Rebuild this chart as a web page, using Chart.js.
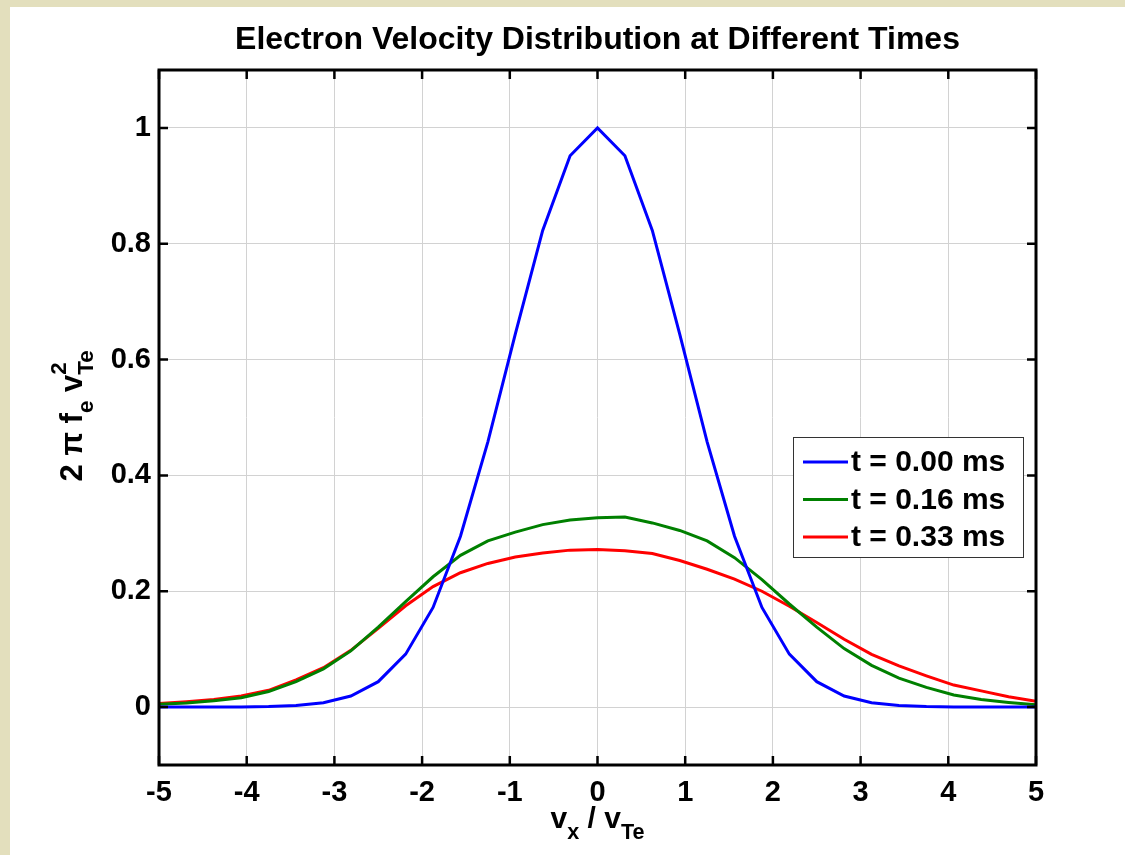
<!DOCTYPE html>
<html>
<head>
<meta charset="utf-8">
<script src="https://cdn.jsdelivr.net/npm/chart.js@4.4.0/dist/chart.umd.min.js"></script>
<style>
  body { margin: 0; background: #e3dfbd; width: 1125px; height: 855px; overflow: hidden; }
  #wrap { position: absolute; left: 10px; top: 7px; width: 1115px; height: 848px; background: #fff; }
</style>
</head>
<body>
<div id="wrap"><canvas id="velocity-chart" width="1115" height="848"></canvas></div>
<script>
// sample positions along v_x / v_Te
const xs = [-5, -4.6875, -4.375, -4.0625, -3.75, -3.4375, -3.125, -2.8125, -2.5, -2.1875, -1.875,
  -1.5625, -1.25, -0.9375, -0.625, -0.3125, 0, 0.3125, 0.625, 0.9375, 1.25, 1.5625, 1.875,
  2.1875, 2.5, 2.8125, 3.125, 3.4375, 3.75, 4.0625, 4.375, 4.6875, 5];

const t000 = [0, 0, 0.0001, 0.0003, 0.0009, 0.0027, 0.0076, 0.0192, 0.0439, 0.0914, 0.172,
  0.295, 0.458, 0.644, 0.823, 0.952, 1, 0.952, 0.823, 0.644, 0.458, 0.295, 0.172,
  0.0914, 0.0439, 0.0192, 0.0076, 0.0027, 0.0009, 0.0003, 0.0001, 0, 0];

const t016 = [0.005, 0.007, 0.011, 0.016, 0.027, 0.044, 0.066, 0.097, 0.138, 0.182, 0.225,
  0.262, 0.287, 0.302, 0.315, 0.323, 0.327, 0.328, 0.318, 0.305, 0.287, 0.258, 0.220,
  0.178, 0.138, 0.101, 0.072, 0.050, 0.034, 0.021, 0.013, 0.008, 0.004];

const t033 = [0.006, 0.009, 0.013, 0.019, 0.029, 0.047, 0.068, 0.098, 0.136, 0.175, 0.208,
  0.232, 0.248, 0.259, 0.266, 0.271, 0.272, 0.270, 0.265, 0.253, 0.238, 0.221, 0.200,
  0.174, 0.146, 0.117, 0.091, 0.071, 0.054, 0.038, 0.028, 0.018, 0.010];

const seriesLabels = ['t = 0.00 ms', 't = 0.16 ms', 't = 0.33 ms'];
const seriesColors = ['#0000ff', '#008000', '#ff0000'];
const xTicks = [-5, -4, -3, -2, -1, 0, 1, 2, 3, 4, 5];
const yTicks = [0, 0.2, 0.4, 0.6, 0.8, 1];

const FONT = '"Liberation Sans", Arial, sans-serif';

function toPoints(ys) {
  return xs.map((x, i) => ({ x: x, y: ys[i] }));
}

// draw text pieces with sub/superscripts, starting at (x, y) baseline
function drawRich(ctx, parts, x, y, size) {
  let cx = x;
  parts.forEach(p => {
    const s = p.small ? size * 0.72 : size;
    ctx.font = 'bold ' + s + 'px ' + FONT;
    ctx.fillText(p.t, cx, y + (p.dy || 0));
    if (!p.keep) cx += ctx.measureText(p.t).width;
  });
  return cx - x;
}
function richWidth(ctx, parts, size) {
  let w = 0;
  parts.forEach(p => {
    const s = p.small ? size * 0.72 : size;
    ctx.font = 'bold ' + s + 'px ' + FONT;
    if (!p.keep) w += ctx.measureText(p.t).width;
  });
  return w;
}

const matlabLook = {
  id: 'matlabLook',
  afterDatasetsDraw(chart) {
    const ctx = chart.ctx;
    const a = chart.chartArea;
    const xs_ = chart.scales.x, ys_ = chart.scales.y;
    ctx.save();
    // inner tick marks
    ctx.strokeStyle = '#000';
    ctx.lineWidth = 2.5;
    ctx.beginPath();
    xTicks.forEach(v => {
      const px = xs_.getPixelForValue(v);
      ctx.moveTo(px, a.bottom); ctx.lineTo(px, a.bottom - 9);
      ctx.moveTo(px, a.top); ctx.lineTo(px, a.top + 9);
    });
    yTicks.forEach(v => {
      const py = ys_.getPixelForValue(v);
      ctx.moveTo(a.left, py); ctx.lineTo(a.left + 9, py);
      ctx.moveTo(a.right, py); ctx.lineTo(a.right - 9, py);
    });
    ctx.stroke();
    // axes box
    ctx.lineWidth = 3;
    ctx.strokeRect(a.left, a.top, a.right - a.left, a.bottom - a.top);

    // legend
    const lx = 783, ly = 430, lw = 230, lh = 120;
    ctx.fillStyle = '#fff';
    ctx.fillRect(lx, ly, lw, lh);
    ctx.strokeStyle = '#333';
    ctx.lineWidth = 1;
    ctx.strokeRect(lx + 0.5, ly + 0.5, lw, lh);
    ctx.font = 'bold 30px ' + FONT;
    ctx.textBaseline = 'middle';
    ctx.textAlign = 'left';
    seriesLabels.forEach((lab, i) => {
      const ry = ly + 25 + i * 37.5;
      ctx.strokeStyle = seriesColors[i];
      ctx.lineWidth = 3;
      ctx.beginPath();
      ctx.moveTo(lx + 10, ry); ctx.lineTo(lx + 55, ry);
      ctx.stroke();
      ctx.fillStyle = '#000';
      ctx.fillText(lab, lx + 58, ry + 1);
    });
    ctx.restore();
  },
  afterDraw(chart) {
    const ctx = chart.ctx;
    const a = chart.chartArea;
    const cx = (a.left + a.right) / 2;
    ctx.save();
    ctx.fillStyle = '#000';
    ctx.textBaseline = 'alphabetic';
    ctx.textAlign = 'left';
    // title
    ctx.font = 'bold 32px ' + FONT;
    const title = 'Electron Velocity Distribution at Different Times';
    ctx.fillText(title, cx - ctx.measureText(title).width / 2, 42);

    // x axis title: v_x / v_Te
    const xParts = [
      { t: 'v' }, { t: 'x', small: true, dy: 11 }, { t: ' / v' }, { t: 'Te', small: true, dy: 11 }
    ];
    const xw = richWidth(ctx, xParts, 30);
    drawRich(ctx, xParts, cx - xw / 2, 821, 30);

    // y axis title: 2 pi f_e v^2_Te (rotated)
    const yParts = [
      { t: '2 \u03c0 f' }, { t: 'e', small: true, dy: 11 }, { t: ' v' },
      { t: '2', small: true, dy: -16, keep: true }, { t: 'Te', small: true, dy: 11 }
    ];
    const yw = richWidth(ctx, yParts, 31);
    ctx.translate(72, 409);
    ctx.rotate(-Math.PI / 2);
    drawRich(ctx, yParts, -yw / 2, 0, 31);
    ctx.restore();
  }
};

const ctx = document.getElementById('velocity-chart').getContext('2d');

const velocityConfig = {
  type: 'scatter',
  data: {
    datasets: seriesLabels.map((lab, i) => ({
      label: lab,
      data: toPoints([t000, t016, t033][i]),
      showLine: true,
      borderColor: seriesColors[i],
      backgroundColor: seriesColors[i],
      borderWidth: 3,
      pointRadius: 0,
      tension: 0
    }))
  },
  options: {
    responsive: false,
    animation: false,
    devicePixelRatio: 1,
    layout: { padding: { top: 63, right: 89, left: 0, bottom: 0 } },
    plugins: {
      legend: { display: false },
      tooltip: { enabled: false },
      title: { display: false }
    },
    scales: {
      x: {
        type: 'linear',
        min: -5,
        max: 5,
        afterBuildTicks: scale => { scale.ticks = xTicks.map(v => ({ value: v })); },
        afterFit: scale => { scale.height = 90; },
        grid: { color: '#d2d2d2', lineWidth: 1, drawTicks: false },
        border: { display: false },
        ticks: {
          padding: 11,
          color: '#000',
          font: { family: FONT, weight: 'bold', size: 29 }
        }
      },
      y: {
        type: 'linear',
        min: -0.1,
        max: 1.1,
        afterBuildTicks: scale => { scale.ticks = yTicks.map(v => ({ value: v })); },
        afterFit: scale => { scale.width = 149; },
        grid: { color: '#d2d2d2', lineWidth: 1, drawTicks: false },
        border: { display: false },
        ticks: {
          padding: 8,
          color: '#000',
          font: { family: FONT, weight: 'bold', size: 29 },
          callback: v => String(Math.round(v * 10) / 10)
        }
      }
    }
  },
  plugins: [matlabLook]
};

new Chart(ctx, velocityConfig);
</script>
</body>
</html>
